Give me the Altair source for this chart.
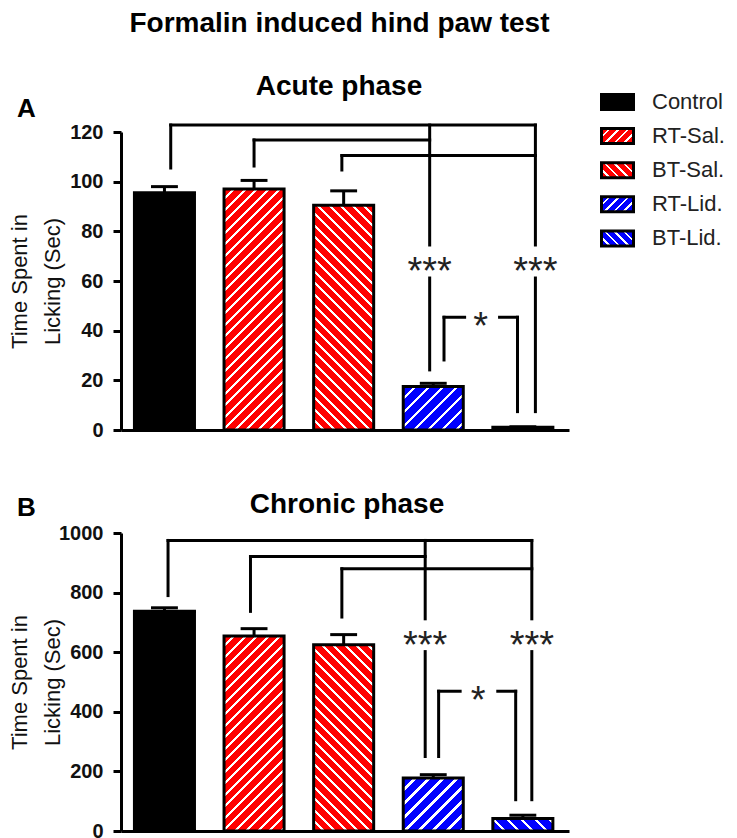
import altair as alt
import pandas as pd

# ---------------- data ----------------
groups = ["Control", "RT-Sal.", "BT-Sal.", "RT-Lid.", "BT-Lid."]
positions = [0, 1, 2, 3, 4]

acute_mean = [95.5, 97.0, 90.5, 17.5, 1.1]
acute_sem = [2.5, 3.5, 5.8, 1.3, 0.2]

chronic_mean = [737, 654, 625, 178, 42]
chronic_sem = [12, 25, 34, 11, 11]

# significance annotations (x in group-index units, y in data units)
acute_h_x = [0.07, 1.00, 1.98, 3.12, 3.74]
acute_h_x2 = [4.14, 2.96, 4.14, 3.35, 3.94]
acute_h_y = [122.8, 116.8, 110.5, 45.4, 45.4]
acute_v_x = [0.07, 1.00, 1.98, 2.96, 2.96, 4.14, 4.14, 3.12, 3.94]
acute_v_y = [122.8, 116.8, 110.5, 122.8, 61.2, 122.8, 61.2, 45.4, 45.4]
acute_v_y2 = [105.5, 106.3, 104.7, 74.5, 24.2, 74.5, 7.4, 28.2, 7.4]
acute_star_x = [2.96, 4.14, 3.53]
acute_star_y = [67.8, 67.8, 45.4]
acute_star_t = ["***", "***", "*"]

chronic_h_x = [0.04, 0.96, 1.98, 3.06, 3.72]
chronic_h_x2 = [4.10, 2.91, 4.10, 3.30, 3.92]
chronic_h_y = [975, 921, 880, 469, 469]
chronic_v_x = [0.04, 0.96, 1.98, 2.91, 2.91, 4.10, 4.10, 3.06, 3.92]
chronic_v_y = [975, 921, 880, 975, 602, 975, 602, 469, 469]
chronic_v_y2 = [790, 737, 718, 712, 250, 712, 105, 250, 105]
chronic_star_x = [2.91, 4.10, 3.50]
chronic_star_y = [656, 656, 469]
chronic_star_t = ["***", "***", "*"]

legend_rows = [0, 1, 2, 3, 4]

# ---------------- styling ----------------
base_colors = ["#000000", "#ff0000", "#ff0000", "#0000ff", "#0000ff"]
hatch_dirs = [None, "/", "\\", "/", "\\"]
hatch_period = [0, 11.5, 11.5, 14, 14]

FONT = "Liberation Sans, Arial, Helvetica, sans-serif"
W, H = 448, 298
XDOM = [-0.485, 4.515]
PXU = W / (XDOM[1] - XDOM[0])
HALF = 0.335
CAP = 0.15


def hatch(w, h, color, direction, period, white_frac=0.25):
    w = max(w, 1.0)
    h = max(h, 1.0)
    k = (w + h) / (w * w + h * h)
    n = (w + h) / period
    stops = []
    i = 0
    while i < n:
        a = i / n
        b = min((i + 1 - white_frac) / n, 1.0)
        c = min((i + 1) / n, 1.0)
        stops.append({"offset": round(a, 5), "color": color})
        stops.append({"offset": round(b, 5), "color": color})
        if b < 1.0:
            stops.append({"offset": round(b, 5), "color": "#ffffff"})
            stops.append({"offset": round(c, 5), "color": "#ffffff"})
        i += 1
    if direction == "/":
        x1, y1, x2, y2 = 0, 0, k * w, k * h
    else:
        x1, y1, x2, y2 = 0, 1, k * w, 1 - k * h
    return {"gradient": "linear", "x1": x1, "y1": y1, "x2": x2, "y2": y2,
            "stops": stops}


def panel(mean, sem, ymax, ystep, title, title_pos, hx, hx2, hy, vx, vy, vy2,
          sx, sy, st, label, label_pos):
    df = pd.DataFrame({"group": groups, "pos": positions, "mean": mean, "sem": sem})
    df["x0"] = df["pos"] - HALF
    df["x1"] = df["pos"] + HALF
    df["cx0"] = df["pos"] - CAP
    df["cx1"] = df["pos"] + CAP
    df["top"] = df["mean"] + df["sem"]
    df["zero"] = 0

    xs = alt.Scale(domain=XDOM, nice=False, zero=False)
    ys = alt.Scale(domain=[0, ymax], nice=False, zero=False)

    xaxis = alt.Axis(ticks=False, labels=False, title=None, grid=False,
                     domainWidth=3, domainColor="black")
    yaxis = alt.Axis(values=list(range(0, ymax + 1, ystep)), format="d",
                     title=["Time Spent in", "Licking (Sec)"],
                     titleFont=FONT, titleFontSize=22, titleFontWeight="normal",
                     titleColor="#111", titleX=-112, titleY=H / 2,
                     titleAngle=-90, titleBaseline="top", titleAlign="center",
                     titleLineHeight=33,
                     labelFont=FONT, labelFontSize=20, labelFontWeight="bold",
                     labelColor="#111", labelPadding=10,
                     tickSize=8, tickWidth=3, tickColor="black",
                     domainWidth=3, domainColor="black", grid=False)

    def X(f):
        return alt.X(f, scale=xs, axis=xaxis)

    def Y(f):
        return alt.Y(f, scale=ys, axis=yaxis)

    stem = alt.Chart(df).mark_rule(color="black", strokeWidth=3).encode(
        x=X("pos:Q"), y=Y("mean:Q"), y2="top:Q")
    cap = alt.Chart(df).mark_rule(color="black", strokeWidth=3).encode(
        x=X("cx0:Q"), x2="cx1:Q", y=Y("top:Q"))

    layers = [stem, cap]
    for i, g in enumerate(groups):
        w = 2 * HALF * PXU
        h = mean[i] / ymax * H
        if hatch_dirs[i] is None:
            fill = base_colors[i]
        else:
            fill = hatch(w, h, base_colors[i], hatch_dirs[i], hatch_period[i])
        bar = alt.Chart(df).transform_filter(alt.datum.group == g).mark_rect(
            fill=fill, stroke="black", strokeWidth=3).encode(
            x=X("x0:Q"), x2="x1:Q", y=Y("mean:Q"), y2="zero:Q")
        layers.append(bar)

    hdf = pd.DataFrame({"x": hx, "x2": hx2, "y": hy})
    vdf = pd.DataFrame({"x": vx, "y": vy, "y2": vy2})
    sdf = pd.DataFrame({"x": sx, "y": sy, "t": st})

    hrule = alt.Chart(hdf).mark_rule(color="black", strokeWidth=3, strokeCap="square").encode(
        x=X("x:Q"), x2="x2:Q", y=Y("y:Q"))
    vrule = alt.Chart(vdf).mark_rule(color="black", strokeWidth=3, strokeCap="square").encode(
        x=X("x:Q"), y=Y("y:Q"), y2="y2:Q")
    stars = alt.Chart(sdf).mark_text(font=FONT, fontSize=38, color="#222",
                                     baseline="alphabetic", align="center", dy=22).encode(
        x=X("x:Q"), y=Y("y:Q"), text="t:N")
    lab = alt.Chart(pd.DataFrame({"t": [label]})).mark_text(
        font=FONT, fontSize=26, fontWeight="bold", color="black",
        align="left", baseline="alphabetic").encode(
        x=alt.value(label_pos[0]), y=alt.value(label_pos[1]), text="t:N")
    ttl = alt.Chart(pd.DataFrame({"t": [title]})).mark_text(
        font=FONT, fontSize=28, fontWeight="bold", color="black",
        align="center", baseline="alphabetic").encode(
        x=alt.value(title_pos[0]), y=alt.value(title_pos[1]), text="t:N")

    layers += [hrule, vrule, stars, lab, ttl]
    return alt.layer(*layers).properties(width=W, height=H)


panel_a = panel(acute_mean, acute_sem, 120, 20, "Acute phase", (218, -37),
                acute_h_x, acute_h_x2, acute_h_y, acute_v_x, acute_v_y, acute_v_y2,
                acute_star_x, acute_star_y, acute_star_t, "A", (-104, -15))
panel_b = panel(chronic_mean, chronic_sem, 1000, 200, "Chronic phase", (226, -20),
                chronic_h_x, chronic_h_x2, chronic_h_y, chronic_v_x, chronic_v_y, chronic_v_y2,
                chronic_star_x, chronic_star_y, chronic_star_t, "B", (-104, -17))

# ---------------- legend ----------------
ROW_PX = 34.1
LD0 = 30 / ROW_PX
LD1 = LD0 + H / ROW_PX
ldf = pd.DataFrame({"group": groups, "row": legend_rows})
ldf["r0"] = ldf["row"] - 0.22
ldf["r1"] = ldf["row"] + 0.22
lys = alt.Scale(domain=[LD0, LD1], reverse=True, nice=False, zero=False)
sw_w = 32
sw_h = 0.44 * ROW_PX
leg_layers = []
for i, g in enumerate(groups):
    if hatch_dirs[i] is None:
        fill = base_colors[i]
    else:
        fill = hatch(sw_w, sw_h, base_colors[i], hatch_dirs[i], 9.5)
    leg_layers.append(
        alt.Chart(ldf).transform_filter(alt.datum.group == g).mark_rect(
            fill=fill, stroke="black", strokeWidth=3).encode(
            x=alt.value(1.5), x2=alt.value(1.5 + sw_w),
            y=alt.Y("r0:Q", scale=lys, axis=None), y2="r1:Q"))
leg_layers.append(
    alt.Chart(ldf).mark_text(font=FONT, fontSize=22, color="#222",
                             align="left", baseline="middle").encode(
        x=alt.value(52), y=alt.Y("row:Q", scale=lys, axis=None), text="group:N"))
legend = alt.layer(*leg_layers).properties(width=120, height=H)

top = alt.hconcat(panel_a, legend, spacing=31)
chart = alt.vconcat(top, panel_b, spacing=51).properties(
    title=alt.TitleParams("Formalin induced hind paw test", font=FONT, fontSize=28,
                          fontWeight="bold", color="black", anchor="middle",
                          offset=35, dx=-27),
    padding={"left": 0, "top": 2, "right": 0, "bottom": 0},
).configure_view(stroke=None)

chart.save("out.html", embed_options={"renderer": "svg", "actions": False})
